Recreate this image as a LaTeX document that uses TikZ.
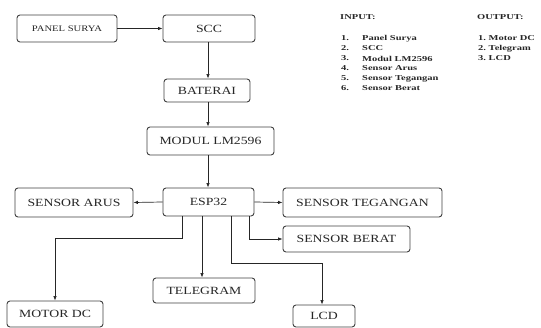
\documentclass[tikz,border=0pt]{standalone}
\usepackage{fontspec}
\setmainfont{Liberation Serif}
\newfontfamily\boxfont[FakeStretch=1.25]{Liberation Serif}
\newfontfamily\legfont[FakeStretch=1.4]{Liberation Serif}
\usetikzlibrary{arrows.meta}
\begin{document}
\begin{tikzpicture}[x=1pt,y=-1pt,
  blk/.style 2 args={draw=black!75, line width=0.9pt, rounded corners=3pt,
    minimum width=#1, minimum height=#2, inner sep=0pt, fill=white,
    text=black!85, font=\boxfont\fontsize{11}{13}\selectfont},
  smalltext/.style={font=\boxfont\fontsize{8.5}{10}\selectfont},
  conn/.style={draw=black!85, line width=0.7pt, -{Latex[length=4.5pt,width=3.5pt]}},
  leg/.style={anchor=west, inner sep=0pt, text=black!85,
    font=\legfont\bfseries\fontsize{7.5}{9}\selectfont}]
\useasboundingbox (0,0) rectangle (541,328);
% blocks
\node[blk={100pt}{27pt}, smalltext] (panel) at (67,28.5) {PANEL SURYA};
\node[blk={92pt}{27pt}] (scc) at (209,28.5) {SCC};
\node[blk={86pt}{23pt}] (bat) at (207,90.5) {BATERAI};
\node[blk={127pt}{28pt}] (modul) at (210.5,141) {MODUL LM2596};
\node[blk={91pt}{28pt}] (esp) at (208.5,202) {ESP32};
\node[blk={118pt}{29pt}] (arus) at (74,202.5) {SENSOR ARUS};
\node[blk={159pt}{29pt}] (teg) at (362.5,202.5) {SENSOR TEGANGAN};
\node[blk={127pt}{26pt}] (berat) at (346.5,239) {SENSOR BERAT};
\node[blk={102pt}{25pt}] (tele) at (204,290.5) {TELEGRAM};
\node[blk={96pt}{26pt}] (motor) at (55,314) {MOTOR DC};
\node[blk={62pt}{22pt}] (lcd) at (324,316) {LCD};
% connectors
\draw[conn] (panel.east) -- (scc.west);
\draw[conn] (scc.south -| 208,0) -- (bat.north -| 208,0);
\draw[conn] (bat.south -| 208,0) -- (modul.north -| 208,0);
\draw[conn] (modul.south -| 208,0) -- (esp.north -| 208,0);
\draw[conn] (esp.west) -- (arus.east);
\draw[conn] (esp.east) -- (teg.west);
\draw[conn] (esp.south -| 249,0) |- (berat.west);
\draw[conn] (esp.south -| 182,0) -- (182,238) -| (motor.north);
\draw[conn] (esp.south -| 202,0) -- (tele.north -| 202,0);
\draw[conn] (esp.south -| 231,0) -- (231,263) -| (lcd.north -| 322,0);
% legend
\node[leg] (inh) at (340,17) {INPUT:};
\node[leg] (i1n) at (341,38.5) {1.};
\node[leg] (i1) at (362,38.5) {Panel Surya};
\node[leg] (i2n) at (341,48.5) {2.};
\node[leg] (i2) at (362,48.5) {SCC};
\node[leg] (i3n) at (341,58.5) {3.};
\node[leg] (i3) at (362,58.5) {Modul LM2596};
\node[leg] (i4n) at (341,68.5) {4.};
\node[leg] (i4) at (362,68.5) {Sensor Arus};
\node[leg] (i5n) at (341,78.5) {5.};
\node[leg] (i5) at (362,78.5) {Sensor Tegangan};
\node[leg] (i6n) at (341,88.5) {6.};
\node[leg] (i6) at (362,88.5) {Sensor Berat};
\node[leg] (outh) at (477,17) {OUTPUT:};
\node[leg] (o1) at (478,38.5) {1.\ Motor DC};
\node[leg] (o2) at (478,48.5) {2.\ Telegram};
\node[leg] (o3) at (478,58.5) {3.\ LCD};
\end{tikzpicture}
\end{document}
